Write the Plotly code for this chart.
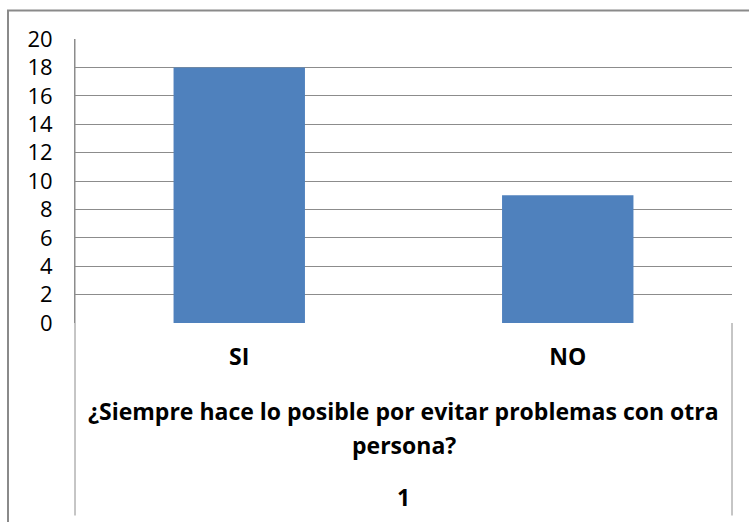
import plotly.graph_objects as go

# Survey answers
categories = ["SI", "NO"]
counts = [18, 9]
question = ["¿Siempre hace lo posible por evitar problemas con otra", "persona?"]
group_label = "1"
y_ticks = list(range(0, 21, 2))

W, H = 749, 522
L, R, T, B = 75, 17, 39, 199
PW, PH = W - L - R, H - T - B


def fx(px):
    """pixel x -> paper x"""
    return (px - L) / PW


def fy(py):
    """pixel y -> paper y"""
    return (H - B - py) / PH


FONT = "Open Sans"
GRID = "#8c8c8c"
LABEL_SIZE = 23

fig = go.Figure(
    go.Bar(
        x=categories,
        y=counts,
        marker=dict(color="#4F81BD", line=dict(width=0)),
        width=0.4,
    )
)

shapes = [
    # outer chart frame
    dict(type="rect", xref="paper", yref="paper",
         x0=fx(8), x1=fx(760), y0=fy(540), y1=fy(10.5),
         line=dict(color="#8a8a8a", width=2), fillcolor="rgba(0,0,0,0)", layer="below"),
    # category dividers under the plot
    dict(type="line", xref="paper", yref="paper",
         x0=0, x1=0, y0=fy(515.5), y1=1,
         line=dict(color=GRID, width=1)),
    dict(type="line", xref="paper", yref="paper",
         x0=1, x1=1, y0=fy(515.5), y1=0,
         line=dict(color=GRID, width=1)),
]

annotations = [
    dict(text="<b>%s</b>" % question[0], xref="paper", yref="paper",
         x=0.5, y=fy(411), xanchor="center", yanchor="middle", showarrow=False,
         font=dict(family=FONT, size=LABEL_SIZE, color="#000")),
    dict(text="<b>%s</b>" % question[1], xref="paper", yref="paper",
         x=0.5, y=fy(445), xanchor="center", yanchor="middle", showarrow=False,
         font=dict(family=FONT, size=LABEL_SIZE, color="#000")),
    dict(text="<b>%s</b>" % group_label, xref="paper", yref="paper",
         x=0.5, y=fy(497), xanchor="center", yanchor="middle", showarrow=False,
         font=dict(family=FONT, size=LABEL_SIZE, color="#000")),
]

fig.update_layout(
    width=W, height=H,
    margin=dict(l=L, r=R, t=T, b=B, pad=0),
    paper_bgcolor="white", plot_bgcolor="white",
    showlegend=False,
    shapes=shapes,
    annotations=annotations,
    xaxis=dict(
        type="category",
        showgrid=False, zeroline=False,
        showline=False, ticks="",
        tickfont=dict(family=FONT, size=LABEL_SIZE, color="#000", weight="bold"),
        ticklabelstandoff=18,
    ),
    yaxis=dict(
        range=[0, 20], tickvals=y_ticks,
        showgrid=True, gridcolor=GRID, gridwidth=1,
        zeroline=False, showline=True, linecolor=GRID, linewidth=1,
        ticks="", ticklabelstandoff=17,
        tickfont=dict(family=FONT, size=22, color="#000"),
    ),
)

fig.write_html("out.html")
